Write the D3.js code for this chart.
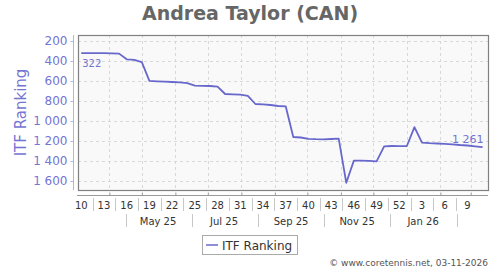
<!DOCTYPE html>
<html>
<head>
<meta charset="utf-8">
<title>Andrea Taylor (CAN)</title>
<script src="https://cdn.jsdelivr.net/npm/d3@7"></script>
<style>
  html, body { margin: 0; padding: 0; background: #fff; }
  svg text { font-family: "DejaVu Sans", sans-serif; }
  .grid line { stroke: #d8d8d8; stroke-dasharray: 3,3; stroke-width: 1px; }
  .sep { stroke: #c8c8c8; stroke-width: 1px; }
</style>
</head>
<body>
<div id="chart"></div>
<script>
// weekly ITF ranking, week 10 2025 -> week 11 2026
var firstWeek = "2025-03-06";
var ranking = [
  322, 321, 321, 322, 323, 326, 383, 388, 412, 598,
  603, 607, 610, 614, 622, 646, 648, 650, 657, 730,
  733, 737, 748, 830, 834, 840, 850, 853, 1160, 1165,
  1178, 1182, 1183, 1180, 1176, 1618, 1396, 1397, 1398, 1403,
  1253, 1250, 1251, 1250, 1062, 1217, 1222, 1225, 1228, 1233,
  1240, 1245, 1253, 1261
];
var weekLabels = ["10", "13", "16", "19", "22", "25", "28", "31", "34",
                  "37", "40", "43", "46", "49", "52", "3", "6", "9"];
var monthLabels = ["May 25", "Jul 25", "Sep 25", "Nov 25", "Jan 26"];
var yTicks = [200, 400, 600, 800, 1000, 1200, 1400, 1600];

var width = 500, height = 270;
var pLeft = 78, pRight = 488, pTop = 35, pBottom = 190;
var lineColor = "#6868cc", axisColor = "#7474d2";

var svg = d3.select("#chart").append("svg")
            .attr("width", width)
            .attr("height", height);

var parse = d3.timeParse("%Y-%m-%d");
var day0 = parse(firstWeek);
var dates = ranking.map(function(d, i) { return d3.timeDay.offset(day0, 7 * i); });

var x = d3.scaleTime()
          .domain([parse("2025-03-03"), parse("2026-03-17")])
          .range([pLeft, pRight]);
var y = d3.scaleLinear()
          .domain([140, 1690])
          .range([pTop, pBottom]);

var loc = d3.formatLocale({decimal: ".", thousands: "\u00a0", grouping: [3], currency: ["", ""]});
var fmt = loc.format(",d");

// title
svg.append("text")
   .attr("x", width / 2).attr("y", 20)
   .attr("text-anchor", "middle")
   .attr("font-size", 19).attr("font-weight", "bold")
   .attr("fill", "#666")
   .text("Andrea Taylor (CAN)");

// plot background
svg.append("rect")
   .attr("x", pLeft).attr("y", pTop)
   .attr("width", pRight - pLeft).attr("height", pBottom - pTop)
   .attr("fill", "#f9f9f9");

// grid
var months = x.ticks(d3.timeMonth.every(1)).filter(function(d) {
  return x(d) > pLeft + 2 && x(d) < pRight - 2;
});
var grid = svg.append("g").attr("class", "grid");
grid.selectAll(".vg").data(months).enter().append("line")
    .attr("x1", function(d) { return Math.round(x(d)) + 0.5; })
    .attr("x2", function(d) { return Math.round(x(d)) + 0.5; })
    .attr("y1", pTop).attr("y2", pBottom);
grid.selectAll(".hg").data(yTicks).enter().append("line")
    .attr("x1", pLeft).attr("x2", pRight)
    .attr("y1", function(d) { return Math.round(y(d)) + 0.5; })
    .attr("y2", function(d) { return Math.round(y(d)) + 0.5; });

svg.append("rect")
   .attr("x", pLeft + 0.5).attr("y", pTop + 0.5)
   .attr("width", pRight - pLeft).attr("height", pBottom - pTop)
   .attr("fill", "none").attr("stroke", "#808080").attr("stroke-width", 1.2);

// y axis
var yAxis = svg.append("g")
   .attr("transform", "translate(73.5,0)")
   .call(d3.axisLeft(y).tickValues(yTicks).tickSize(3).tickPadding(3).tickFormat(fmt));
yAxis.select(".domain").attr("d", "M0," + pTop + "V" + pBottom).attr("stroke", "#b4b4e2");
yAxis.selectAll(".tick line").attr("stroke", "#b4b4e2");
yAxis.selectAll("text").attr("fill", axisColor).attr("font-size", 12)
     .attr("font-family", "DejaVu Sans, sans-serif");

svg.append("text")
   .attr("transform", "translate(26," + ((pTop + pBottom) / 2) + ") rotate(-90)")
   .attr("text-anchor", "middle")
   .attr("font-size", 15).attr("fill", axisColor)
   .text("ITF Ranking");

// x axis
var xAxis = svg.append("g")
   .attr("transform", "translate(0,195.5)")
   .call(d3.axisTop(x).tickValues(months).tickSize(3).tickFormat(""));
xAxis.select(".domain").attr("d", "M" + (pLeft - 1) + ",0H" + pRight).attr("stroke", "#999");
xAxis.selectAll(".tick line").attr("stroke", "#999");

var weekPos = weekLabels.map(function(d, i) { return x(dates[3 * i]); });
svg.selectAll(".wk").data(weekLabels).enter().append("text")
   .attr("x", function(d, i) { return weekPos[i]; })
   .attr("y", 209)
   .attr("text-anchor", "middle")
   .attr("font-size", 10).attr("fill", "#333")
   .text(function(d) { return d; });
svg.selectAll(".wsep").data(weekPos.slice(1)).enter().append("line")
   .attr("class", "sep")
   .attr("x1", function(d, i) { return Math.round((d + weekPos[i]) / 2) + 0.5; })
   .attr("x2", function(d, i) { return Math.round((d + weekPos[i]) / 2) + 0.5; })
   .attr("y1", 198).attr("y2", 211);

var monthMid = monthLabels.map(function(d, i) {
  return x(d3.timeDay.offset(d3.timeMonth.offset(parse("2025-05-01"), 2 * i), 15));
});
var monthSep = d3.range(monthLabels.length + 1).map(function(i) {
  return x(d3.timeDay.offset(d3.timeMonth.offset(parse("2025-04-01"), 2 * i), 15));
});
svg.selectAll(".mo").data(monthLabels).enter().append("text")
   .attr("x", function(d, i) { return monthMid[i]; })
   .attr("y", 225)
   .attr("text-anchor", "middle")
   .attr("font-size", 10).attr("fill", "#333")
   .text(function(d) { return d; });
svg.selectAll(".msep").data(monthSep).enter().append("line")
   .attr("class", "sep")
   .attr("x1", function(d) { return Math.round(d) + 0.5; })
   .attr("x2", function(d) { return Math.round(d) + 0.5; })
   .attr("y1", 214).attr("y2", 227);

// ranking line
var line = d3.line()
             .x(function(d, i) { return x(dates[i]); })
             .y(function(d) { return y(d); });
svg.append("path")
   .datum(ranking)
   .attr("fill", "none")
   .attr("stroke", lineColor)
   .attr("stroke-width", 1.8)
   .attr("stroke-linejoin", "round")
   .attr("d", line);

var last = ranking.length - 1;
svg.append("text")
   .attr("x", x(dates[0]) + 1).attr("y", y(ranking[0]) + 14)
   .attr("font-size", 10).attr("fill", axisColor)
   .text(fmt(ranking[0]));
svg.append("text")
   .attr("x", x(dates[last]) + 1).attr("y", y(ranking[last]) - 4)
   .attr("text-anchor", "end")
   .attr("font-size", 11).attr("fill", axisColor)
   .text(fmt(ranking[last]));

// legend
svg.append("rect")
   .attr("x", 202.5).attr("y", 235.5)
   .attr("width", 95).attr("height", 19)
   .attr("fill", "#fff").attr("stroke", "#aaa");
svg.append("line")
   .attr("x1", 206).attr("x2", 218)
   .attr("y1", 245).attr("y2", 245)
   .attr("stroke", lineColor).attr("stroke-width", 1.5);
svg.append("text")
   .attr("x", 222).attr("y", 249.5)
   .attr("font-size", 12).attr("fill", "#333")
   .text("ITF Ranking");

svg.append("text")
   .attr("x", 488).attr("y", 266)
   .attr("text-anchor", "end")
   .attr("font-size", 9).attr("fill", "#555")
   .text("\u00a9 www.coretennis.net, 03-11-2026");
</script>
</body>
</html>
